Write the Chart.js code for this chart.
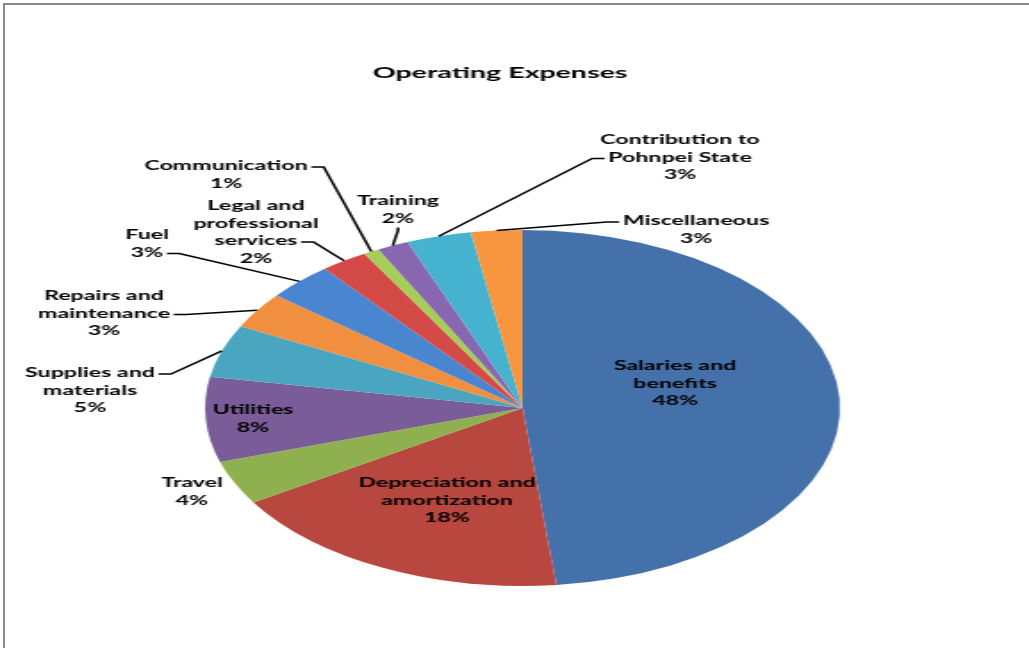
<!DOCTYPE html>
<html>
<head>
<meta charset="utf-8">
<script src="https://cdn.jsdelivr.net/npm/chart.js@4.4.0/dist/chart.umd.min.js"></script>
<style>
    html, body { margin: 0; padding: 0; background: #fff; }
    #wrap { position: relative; width: 1029px; height: 648px; overflow: hidden; background: #fff; }
    #frame { position: absolute; left: 3px; top: 3px; width: 1100px; height: 700px;
             border-top: 2px solid #8a8a8a; border-left: 2px solid #8a8a8a; }
    #pie { position: absolute; left: 0; top: 0; transform-origin: 0 0; }
</style>
</head>
<body>
<div id="wrap">
    <div id="frame"></div>
    <canvas id="pie" width="577" height="648"></canvas>
</div>
<script>
// chart data
const chartTitle = 'Operating Expenses';
const categories = [
    ['Salaries and', 'benefits'],
    ['Depreciation and', 'amortization'],
    ['Travel'],
    ['Utilities'],
    ['Supplies and', 'materials'],
    ['Repairs and', 'maintenance'],
    ['Fuel'],
    ['Legal and', 'professional', 'services'],
    ['Communication'],
    ['Training'],
    ['Contribution to', 'Pohnpei State'],
    ['Miscellaneous']
];
const expenseShares = [48.3, 17.8, 4.0, 7.7, 4.8, 3.3, 3.4, 2.4, 0.8, 1.6, 3.3, 2.6];
const sliceColors = ['#4571aa', '#b8473f', '#8fb04e', '#7a5c98', '#4aa6c0', '#ef8f3f',
                     '#4a85d0', '#d44a46', '#a4ce58', '#8867b0', '#45b2d0', '#f7963f'];

// the picture is stretched sideways, so the canvas is drawn narrow and scaled in x
const SX = 1029 / 577;
const LINE_H = 17.5;
const LABEL_FONT = 'bold 13px Lato';

// label spots in page pixels (x = centre, y = first line)
const labelLayout = [
    { x: 675, y: 366 },
    { x: 447, y: 483 },
    { x: 192, y: 483 },
    { x: 253, y: 410 },
    { x: 90,  y: 373, anchor: { line: 0, side: 'right' } },
    { x: 104, y: 296, anchor: { line: 1, side: 'right' } },
    { x: 147, y: 235, anchor: { line: 1, side: 'right' } },
    { x: 256, y: 206, anchor: { line: 2, side: 'right' } },
    { x: 226, y: 166, anchor: { line: 0, side: 'right' } },
    { x: 398, y: 201, anchor: { side: 'bottom' } },
    { x: 680, y: 140, anchor: { line: 1, side: 'left' } },
    { x: 696, y: 221, anchor: { line: 0, side: 'left' } }
];

document.getElementById('pie').style.transform = 'scaleX(' + SX + ')';

const total = expenseShares.reduce((a, b) => a + b, 0);

const labelPlugin = {
    id: 'excelLabels',
    afterDatasetsDraw(chart) {
        const ctx = chart.ctx;
        const meta = chart.getDatasetMeta(0);

        ctx.save();
        ctx.fillStyle = '#000';
        ctx.font = 'bold 16px Lato';
        ctx.textAlign = 'center';
        ctx.textBaseline = 'middle';
        ctx.fillText(chartTitle, 500 / SX, 73);

        ctx.font = LABEL_FONT;
        ctx.strokeStyle = '#000';
        ctx.lineWidth = 1.5;

        meta.data.forEach((arc, i) => {
            const pos = labelLayout[i];
            const pct = Math.round(expenseShares[i] / total * 100) + '%';
            const lines = categories[i].concat([pct]);
            const cx = pos.x / SX;

            lines.forEach((t, k) => ctx.fillText(t, cx, pos.y + k * LINE_H));

            if (!pos.anchor) return;
            const p = arc.getProps(['x', 'y', 'startAngle', 'endAngle', 'outerRadius'], true);
            const mid = (p.startAngle + p.endAngle) / 2;
            const tipX = p.x + Math.cos(mid) * p.outerRadius;
            const tipY = p.y + Math.sin(mid) * p.outerRadius;

            let sx, sy, ex, ey;
            if (pos.anchor.side === 'bottom') {
                sx = cx;
                sy = pos.y + (lines.length - 1) * LINE_H + 9;
                ex = sx;
                ey = sy + 3;
            } else {
                const w = ctx.measureText(lines[pos.anchor.line]).width;
                const dir = pos.anchor.side === 'right' ? 1 : -1;
                sx = cx + dir * (w / 2 + 2);
                sy = pos.y + pos.anchor.line * LINE_H + 1;
                ex = sx + dir * 7;
                ey = sy;
            }
            ctx.beginPath();
            ctx.moveTo(sx, sy);
            ctx.lineTo(ex, ey);
            ctx.lineTo(tipX, tipY);
            ctx.stroke();
        });
        ctx.restore();
    }
};

// pie centre (522.5, 408) in page pixels, radius 178
const cxPie = 522.5 / SX;
new Chart(document.getElementById('pie'), {
    type: 'pie',
    data: {
        labels: categories,
        datasets: [{
            data: expenseShares,
            backgroundColor: sliceColors,
            borderWidth: 0
        }]
    },
    options: {
        responsive: false,
        animation: false,
        layout: {
            padding: { left: cxPie - 178, right: 577 - (cxPie + 178), top: 230, bottom: 648 - 586 }
        },
        plugins: {
            legend: { display: false },
            tooltip: { enabled: false }
        }
    },
    plugins: [labelPlugin]
});
</script>
</body>
</html>
